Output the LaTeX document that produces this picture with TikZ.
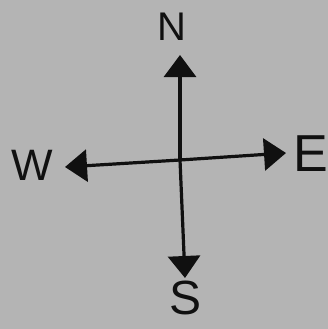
\documentclass[tikz,border=0pt]{standalone}
\usepackage{fontspec}
\setsansfont{Liberation Sans}
\usetikzlibrary{arrows.meta}
\definecolor{paper}{HTML}{B4B4B4}
\definecolor{ink}{HTML}{101010}
\tikzset{
  axis/.style={draw=ink, line width=3.2pt, line cap=round,
    -{Triangle[width=32pt,length=22pt]}},
  lab/.style={text=ink, inner sep=0pt, font=\sffamily\fontsize{40}{40}\selectfont}
}
\begin{document}
\begin{tikzpicture}[x=1pt,y=-1pt]
\fill[paper] (0,0) rectangle (328,329);
\useasboundingbox (0,0) rectangle (328,329);
\coordinate (c) at (180,160);
\coordinate (ntip) at (180,55);
\coordinate (stip) at (185,278);
\coordinate (wtip) at (65,167);
\coordinate (etip) at (286,153);
\draw[axis] (c) -- (ntip);
\draw[axis] (c) -- (stip);
\draw[axis] (c) -- (wtip);
\draw[axis] (c) -- (etip);
\node[lab] (n) at (172,27) {N};
\node[lab, font=\sffamily\fontsize{48}{48}\selectfont] (s) at (186,298) {S};
\node[lab, font=\sffamily\fontsize{44}{44}\selectfont] (w) at (32,165) {W};
\node[lab, font=\sffamily\fontsize{52}{52}\selectfont] (e) at (311,154) {E};
\end{tikzpicture}
\end{document}
